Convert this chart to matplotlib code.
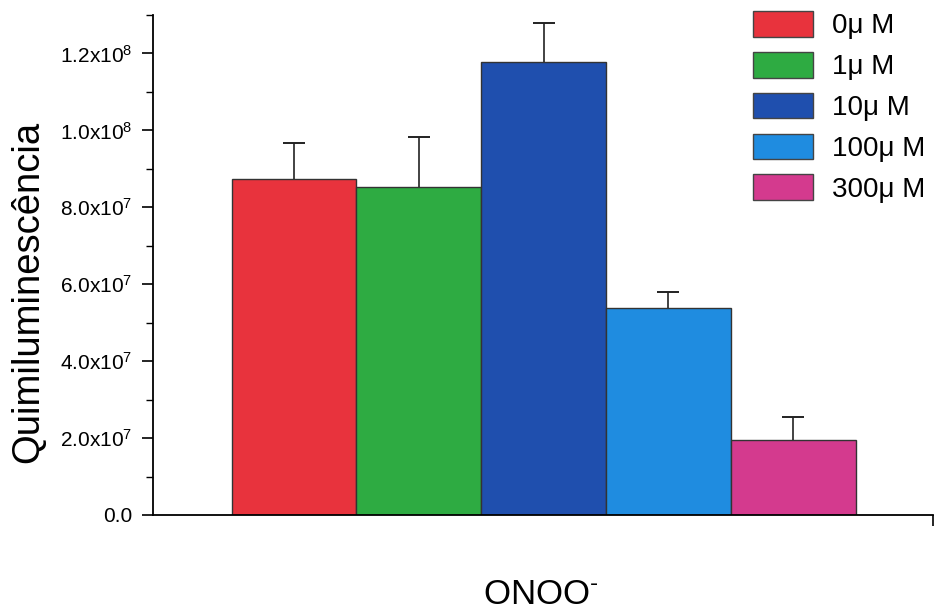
import matplotlib
matplotlib.use("Agg")
import matplotlib.pyplot as plt
from matplotlib.ticker import FuncFormatter, MultipleLocator
import numpy as np

plt.rcParams['font.family'] = ['Liberation Sans', 'DejaVu Sans']
plt.rcParams['mathtext.fontset'] = 'custom'
plt.rcParams['mathtext.rm'] = 'Liberation Sans'

categories = ["0\u03bc M", "1\u03bc M", "10\u03bc M", "100\u03bc M", "300\u03bc M"]
values = [8.73e7, 8.52e7, 1.179e8, 5.38e7, 1.95e7]
errors = [0.93e7, 1.30e7, 0.99e7, 0.41e7, 0.60e7]
colors = ["#e8333d", "#2eab42", "#1f4fae", "#1f8ce0", "#d43a8e"]
ytick_values = [0, 2e7, 4e7, 6e7, 8e7, 1.0e8, 1.2e8]

W, H = 936, 612
fig = plt.figure(figsize=(W / 100, H / 100), dpi=100)
ax = fig.add_axes([153 / W, 1 - 515 / H, (933 - 153) / W, (515 - 15) / H])

x = np.arange(len(categories))
bars = ax.bar(x, values, width=1.0, color=colors, edgecolor="#333333",
              linewidth=1.0)
eb = ax.errorbar(x, values, yerr=[np.zeros(len(errors)), errors], fmt="none",
                 ecolor="#222222", elinewidth=1.2, capsize=8, capthick=1.4)
eb[1][0].set_visible(False)

ax.set_xlim(-1.13, 5.12)
ax.set_ylim(0, 1.30e8)
ax.set_yticks(ytick_values)
ax.yaxis.set_minor_locator(MultipleLocator(1e7))


def fmt(v, pos):
    if v == 0:
        return "0.0"
    e = int(np.floor(np.log10(v)))
    m = v / 10 ** e
    return r"$\mathregular{%.1fx10^{%d}}$" % (m, e)


ax.yaxis.set_major_formatter(FuncFormatter(fmt))
ax.set_xticks([5.12])
ax.set_xticklabels([""])
ax.tick_params(axis="y", which="major", length=8, width=1.2, labelsize=15,
               direction="out", pad=7)
ax.tick_params(axis="y", which="minor", length=5, width=1.0, direction="out")
ax.tick_params(axis="x", which="major", length=8, width=1.2, direction="out")

for s in ["top", "right"]:
    ax.spines[s].set_visible(False)
for s in ["left", "bottom"]:
    ax.spines[s].set_linewidth(1.3)

ax.set_ylabel("Quimiluminesc\u00eancia", fontsize=27.5, va="center")
ax.yaxis.set_label_coords((28 - 153) / (933 - 153), (515 - 292) / (515 - 15))
ax.set_xlabel("ONOO$^{\\mathregular{\u2010}}$", fontsize=25, va="center")
ax.xaxis.set_label_coords((541 - 153) / (933 - 153), -(595 - 515) / (515 - 15))

handles = [plt.Rectangle((0, 0), 1, 1, facecolor=c, edgecolor="#444444", linewidth=1.0)
           for c in colors]
leg = ax.legend(handles, categories, loc="upper left",
                bbox_to_anchor=(753 / W, 1 - 11 / H), bbox_transform=fig.transFigure,
                frameon=False, fontsize=20, handlelength=2.15, handleheight=1.05,
                labelspacing=0.45, handletextpad=0.68, borderpad=0.0,
                borderaxespad=0.0)

fig.savefig("out.png", dpi=100)
